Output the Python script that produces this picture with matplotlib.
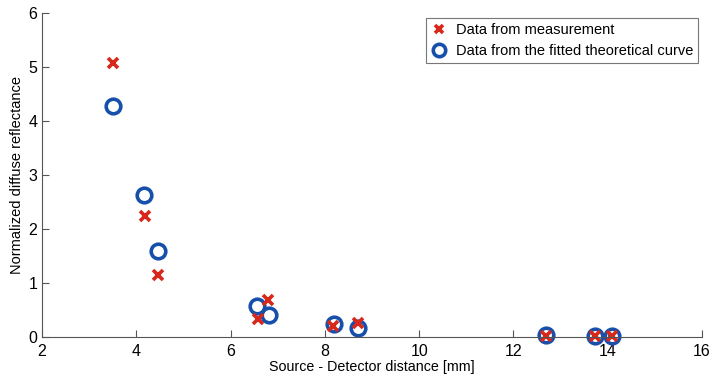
import numpy as np
import matplotlib.pyplot as plt

plt.rcParams['font.family'] = ['Liberation Sans', 'DejaVu Sans']

# Messdaten
x_meas = [3.51, 4.19, 4.46, 6.59, 6.80, 8.18, 8.71, 12.69, 13.74, 14.10]
y_meas = [5.08, 2.24, 1.15, 0.33, 0.69, 0.20, 0.25, 0.02, 0.02, 0.02]

# Werte aus der angepassten Kurve
x_fit = [3.51, 4.16, 4.46, 6.56, 6.82, 8.20, 8.71, 12.69, 13.74, 14.10]
y_fit = [4.28, 2.63, 1.60, 0.57, 0.41, 0.24, 0.17, 0.03, 0.02, 0.02]

red = '#d8281c'
blue = '#1750aa'

fig = plt.figure(figsize=(7.12, 3.74), dpi=100)
ax = fig.add_axes([0.059, 0.099, 0.927, 0.866])

h2, = ax.plot(x_fit, y_fit, 'o', ms=10.5, mfc='none', mec=blue, mew=2.6,
              clip_on=False, label='Data from the fitted theoretical curve')
h1, = ax.plot(x_meas, y_meas, 'x', ms=7.5, mec=red, mew=2.6,
              clip_on=False, label='Data from measurement')

ax.set_xlim(2, 16)
ax.set_ylim(0, 6)
ax.set_xticks(range(2, 17, 2))
ax.set_yticks(range(0, 7))
ax.spines['top'].set_visible(False)
ax.spines['right'].set_visible(False)
ax.spines['left'].set_color('#555555')
ax.spines['bottom'].set_color('#555555')
ax.tick_params(direction='in', length=5, labelsize=11.5, colors='#555555',
               labelcolor='black')
ax.tick_params(axis='x', pad=5)

ax.set_xlabel('Source - Detector distance [mm]', fontsize=10.3, labelpad=1)
ax.set_ylabel('Normalized diffuse reflectance', fontsize=10.5, labelpad=3)

leg = ax.legend(handles=[h1, h2], loc='upper right',
                bbox_to_anchor=(698 / 712, 1 - 18 / 374),
                bbox_transform=fig.transFigure,
                fontsize=10.5, frameon=True, fancybox=False, handlelength=1.2,
                handletextpad=0.5, borderpad=0.35, labelspacing=0.45,
                borderaxespad=0, markerscale=0.85)
leg.get_frame().set_edgecolor('#555555')
leg.get_frame().set_linewidth(0.8)

fig.savefig('out.png', dpi=100)
